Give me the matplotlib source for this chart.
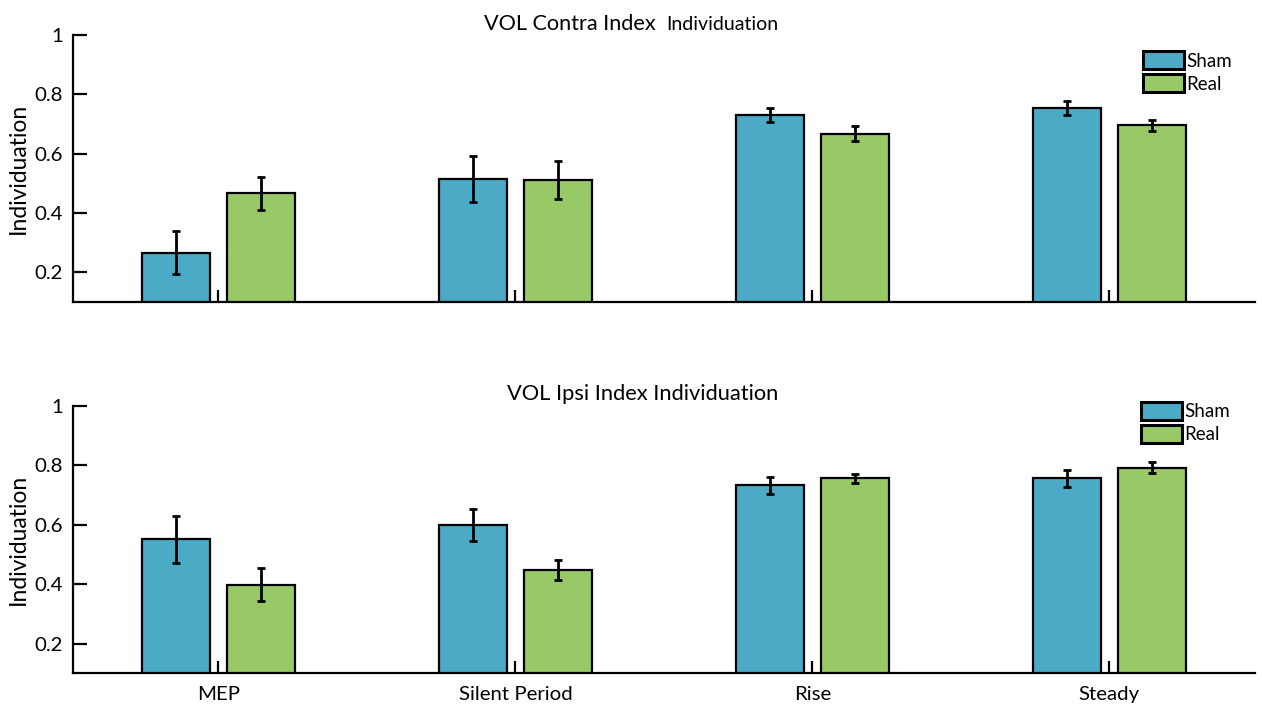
import matplotlib
matplotlib.use("Agg")
import matplotlib.pyplot as plt
import numpy as np

plt.rcParams['font.family'] = ['Lato', 'DejaVu Sans']

categories = ["MEP", "Silent Period", "Rise", "Steady"]
series_names = ["Sham", "Real"]

contra_sham = [0.267, 0.514, 0.731, 0.755]
contra_sham_err = [0.073, 0.078, 0.024, 0.023]
contra_real = [0.467, 0.511, 0.668, 0.696]
contra_real_err = [0.055, 0.064, 0.026, 0.018]

ipsi_sham = [0.551, 0.598, 0.733, 0.757]
ipsi_sham_err = [0.078, 0.054, 0.028, 0.028]
ipsi_real = [0.399, 0.447, 0.756, 0.792]
ipsi_real_err = [0.056, 0.034, 0.014, 0.019]

y_ticks = [0.2, 0.4, 0.6, 0.8, 1.0]
y_tick_labels = ["0.2", "0.4", "0.6", "0.8", "1"]

sham_color = "#4BAAC6"
real_color = "#98C966"

fig = plt.figure(figsize=(12.62, 7.06), dpi=100)
ax_top = fig.add_axes([0.0578, 0.5722, 0.9366, 0.378])
ax_bot = fig.add_axes([0.0578, 0.0463, 0.9366, 0.3786])

x = np.arange(1, len(categories) + 1)
offset = 0.143
width = 0.229


def draw_panel(ax, sham, sham_err, real, real_err, show_labels, legend_anchor):
    err_kw = dict(ecolor="black", elinewidth=2.0, capsize=2.6, capthick=2.0)
    ax.bar(x - offset, sham, width, yerr=sham_err, color=sham_color,
           edgecolor="black", linewidth=1.6, error_kw=err_kw, label=series_names[0])
    ax.bar(x + offset, real, width, yerr=real_err, color=real_color,
           edgecolor="black", linewidth=1.6, error_kw=err_kw, label=series_names[1])
    ax.set_xlim(0.51, 4.49)
    ax.set_ylim(0.1, 1.0)
    ax.set_yticks(y_ticks)
    ax.set_yticklabels(y_tick_labels)
    ax.set_xticks(x)
    if show_labels:
        ax.set_xticklabels(categories)
    else:
        ax.set_xticklabels([])
    for side in ("top", "right"):
        ax.spines[side].set_visible(False)
    for side in ("left", "bottom"):
        ax.spines[side].set_linewidth(1.6)
        ax.spines[side].set_color("black")
    ax.tick_params(axis="y", direction="in", length=10, width=1.6, pad=7, labelsize=14.7)
    ax.tick_params(axis="x", direction="in", length=8.5, width=1.6, pad=9, labelsize=14.7)
    ax.set_ylabel("Individuation", fontsize=16.5, labelpad=4)
    leg = ax.legend(loc="upper left", bbox_to_anchor=legend_anchor, frameon=False,
                    fontsize=13.5, borderpad=0, handlelength=2.2, handleheight=1.1,
                    labelspacing=0.25, handletextpad=0.12, borderaxespad=0)
    for h in leg.legend_handles:
        h.set_linewidth(2.2)


draw_panel(ax_top, contra_sham, contra_sham_err, contra_real, contra_real_err,
           False, (0.905, 0.94))
draw_panel(ax_bot, ipsi_sham, ipsi_sham_err, ipsi_real, ipsi_real_err,
           True, (0.9036, 1.015))

ax_top.text(0.493, 1.021, "VOL Contra Index", transform=ax_top.transAxes,
            ha="right", va="baseline", fontsize=15.6)
ax_top.text(0.502, 1.021, "Individuation", transform=ax_top.transAxes,
            ha="left", va="baseline", fontsize=14)
ax_bot.text(0.482, 1.0225, "VOL Ipsi Index Individuation", transform=ax_bot.transAxes,
            ha="center", va="baseline", fontsize=15.75)

fig.savefig("out.png", dpi=100)
